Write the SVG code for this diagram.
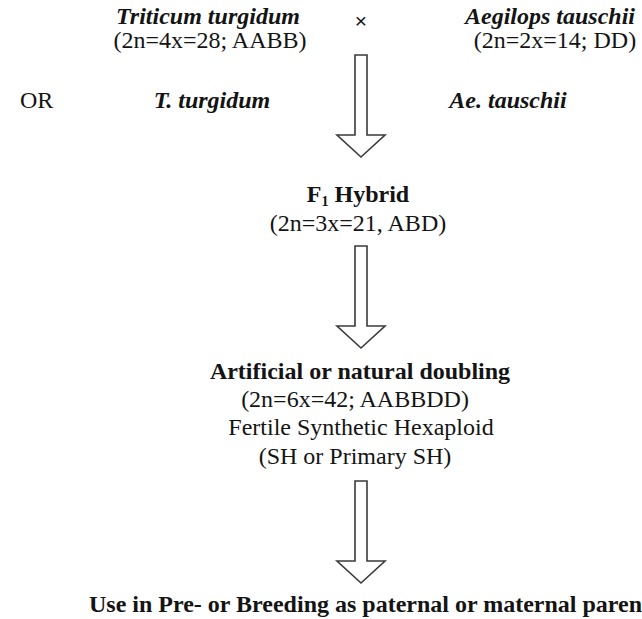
<svg xmlns="http://www.w3.org/2000/svg" width="642" height="619" viewBox="0 0 642 619">
  <style>
    text { font-family: "Liberation Serif", "Times New Roman", serif; font-size: 24px; fill: #141414; }
    .sp { font-weight: bold; font-style: italic; }
    .b { font-weight: bold; }
    .c { text-anchor: middle; }
    .arrow { fill: #ffffff; stroke: #3a3a3a; stroke-width: 1.6; stroke-linejoin: miter; }
  </style>
  <defs>
    <!-- hollow block arrow, tip at origin -->
    <polygon id="blockArrow" class="arrow" points="-6,-102 6,-102 6,-22 24,-22 0,0 -24,-22 -6,-22"/>
  </defs>
  <rect width="642" height="619" fill="#ffffff"/>

  <g id="parent-turgidum">
    <text class="sp c" x="208" y="24">Triticum turgidum</text>
    <text class="c" x="210" y="48">(2n=4x=28; AABB)</text>
    <text class="sp c" x="212" y="108">T. turgidum</text>
  </g>

  <g id="cross">
    <text x="361" y="28" class="c" style="font-family: 'Liberation Sans', sans-serif; font-size: 21px;">×</text>
    <text x="20" y="108">OR</text>
  </g>

  <g id="parent-tauschii">
    <text class="sp c" x="550" y="24">Aegilops tauschii</text>
    <text class="c" x="555" y="48">(2n=2x=14; DD)</text>
    <text class="sp c" x="508" y="108">Ae. tauschii</text>
  </g>

  <g id="f1-hybrid">
    <text class="b c" x="358" y="202">F<tspan font-size="14" dy="4">1</tspan><tspan dy="-4"> Hybrid</tspan></text>
    <text class="c" x="358" y="231">(2n=3x=21, ABD)</text>
  </g>

  <g id="doubling">
    <text class="b c" x="360" y="379">Artificial or natural doubling</text>
    <text class="c" x="355" y="407">(2n=6x=42; AABBDD)</text>
    <text class="c" x="361" y="435">Fertile Synthetic Hexaploid</text>
    <text class="c" x="355" y="464">(SH or Primary SH)</text>
  </g>

  <g id="use">
    <text class="b" x="89" y="612">Use in Pre- or Breeding as paternal or maternal parent</text>
  </g>

  <g id="connectors">
    <use href="#blockArrow" x="361" y="157"/>
    <use href="#blockArrow" x="361" y="348"/>
    <use href="#blockArrow" x="361" y="583"/>
  </g>
</svg>
